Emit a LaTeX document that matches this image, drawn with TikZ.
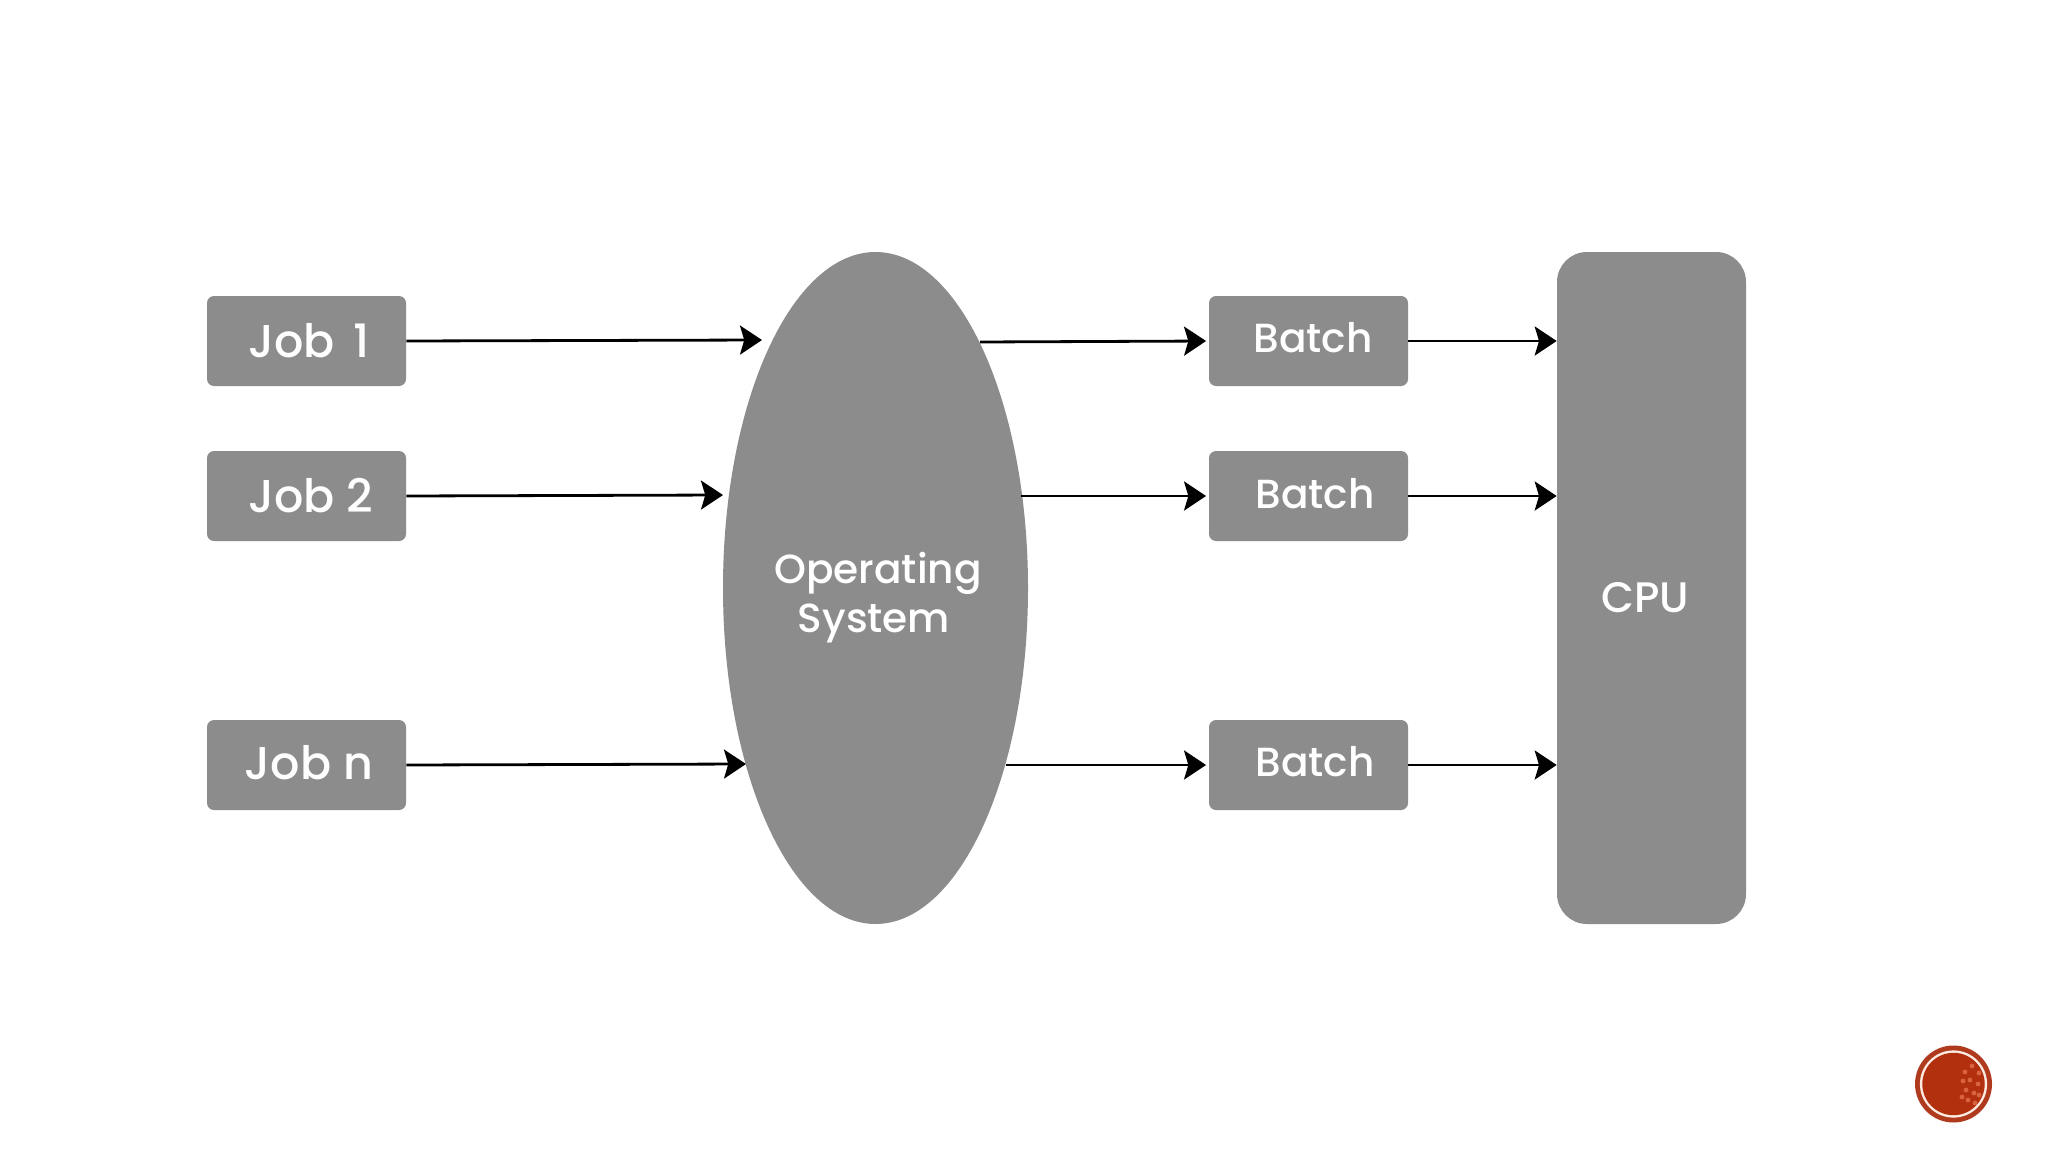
\documentclass[tikz,border=0pt]{standalone}
\usepackage{fontspec}
\setmainfont{Poppins Medium}
\usetikzlibrary{shapes.geometric,arrows.meta}
\definecolor{boxgray}{HTML}{8C8C8C}
\definecolor{badgeouter}{HTML}{B03A1E}
\definecolor{badgeinner}{HTML}{B3300E}
\definecolor{badgering}{HTML}{FBEBE0}
\definecolor{badgespeck}{HTML}{D9623F}
\tikzset{
  jobbox/.style={fill=boxgray,rounded corners=5.25pt,minimum width=149.25pt,minimum height=67.5pt,inner sep=0pt},
  cpubox/.style={fill=boxgray,rounded corners=22.5pt,minimum width=141.75pt,minimum height=504pt,inner sep=0pt},
  osell/.style={ellipse,fill=boxgray,minimum width=228.75pt,minimum height=504pt,inner sep=0pt},
  joblabel/.style={text=white,font=\fontsize{34.5pt}{37pt}\selectfont,inner sep=0pt},
  midlabel/.style={text=white,font=\fontsize{30.5pt}{37pt}\selectfont,inner sep=0pt},
  flow/.style={draw=black,line width=2.1pt,-{Stealth[length=16.5pt,width=21.75pt,inset=3.2pt]}},
  gapflow/.style={flow,shorten >=2pt}
}
\begin{document}
\begin{tikzpicture}[x=0.75pt,y=-0.75pt]
\useasboundingbox[fill=white] (0,0) rectangle (2048,1152);
\node[osell] (os) at (875.5,588) {};
\node[cpubox] (cpu) at (1651.5,588) {};
\node[jobbox] (job1) at (306.5,341) {};
\node[jobbox] (job2) at (306.5,496) {};
\node[jobbox] (jobn) at (306.5,765) {};
\node[jobbox] (batch1) at (1308.5,341) {};
\node[jobbox] (batch2) at (1308.5,496) {};
\node[jobbox] (batch3) at (1308.5,765) {};
\node[joblabel] (tjob1) at (309,341) {Job\hspace{0.14em} 1};
\node[joblabel] (tjob2) at (311,496) {Job 2};
\node[joblabel] (tjobn) at (309,763) {Job n};
\node[midlabel] (tb1) at (1313,338) {Batch};
\node[midlabel] (tb2) at (1315,494) {Batch};
\node[midlabel] (tb3) at (1315,762) {Batch};
\node[midlabel] (tcpu) at (1645.5,598) {\fontsize{32pt}{37pt}\selectfont CPU};
\node[midlabel] (tos1) at (878,573) {Operating};
\node[midlabel] (tos2) at (874,623) {System};
\coordinate (in1) at (762,340);
\coordinate (in2) at (723,495);
\coordinate (inn) at (746,764);
\coordinate (out1) at (980,342);
\coordinate (out2) at (1021,496);
\coordinate (outn) at (1006,765);
\draw[flow] (job1.east) -- (in1);
\draw[flow] (job2.east) -- (in2);
\draw[flow] (jobn.east) -- (inn);
\draw[gapflow] (out1) -- (batch1.west);
\draw[gapflow] (out2) -- (batch2.west);
\draw[gapflow] (outn) -- (batch3.west);
\draw[flow] (batch1.east) -- (cpu.west |- batch1.east);
\draw[flow] (batch2.east) -- (cpu.west |- batch2.east);
\draw[flow] (batch3.east) -- (cpu.west |- batch3.east);
% badge
\fill[badgeouter] (1953.5,1084) circle[radius=28.875pt];
\fill[badgering] (1953.5,1084) circle[radius=25.2pt];
\fill[badgeinner] (1953.5,1084) circle[radius=23.4pt];
\foreach \a/\b in {1965/1072,1972/1066,1979/1073,1970/1080,1978/1084,1966/1090,1974/1093,1963/1081,1979/1095,1968/1100,1975/1103,1962/1097}
  \fill[badgespeck] (\a,\b) circle[radius=1.8pt];
\end{tikzpicture}
\end{document}
